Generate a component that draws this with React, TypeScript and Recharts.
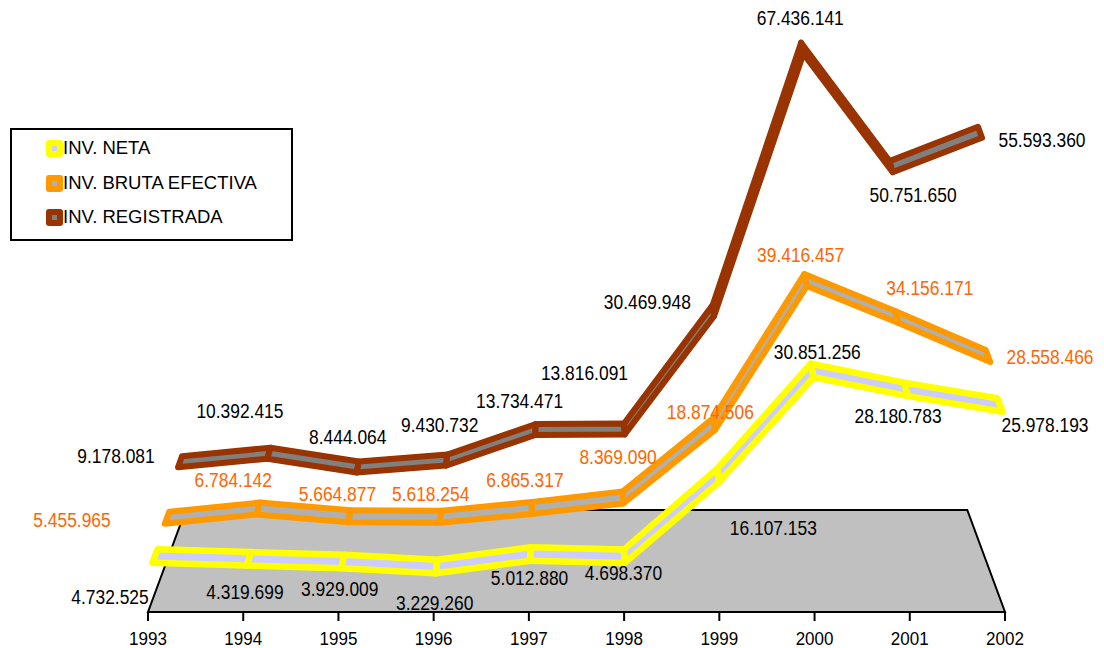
import React from 'react';
import { LineChart, Line, XAxis, YAxis, ReferenceArea, LabelList } from 'recharts';

const years = ['1993', '1994', '1995', '1996', '1997', '1998', '1999', '2000', '2001', '2002'];
const invNeta = [4732525, 4319699, 3929009, 3229260, 5012880, 4698370, 16107153, 30851256, 28180783, 25978193];
const invBruta = [5455965, 6784142, 5664877, 5618254, 6865317, 8369090, 18874506, 39416457, 34156171, 28558466];
const invRegistrada = [9178081, 10392415, 8444064, 9430732, 13734471, 13816091, 30469948, 67436141, 50751650, 55593360];
const seriesNames = ['INV. NETA', 'INV. BRUTA EFECTIVA', 'INV. REGISTRADA'];

// label placement offsets (px) relative to each point
const netaLabelOffsets = [[-45, 41], [-4, 33], [-3, 27], [-2, 36], [-1, 24], [-1, 17], [55, 53], [5, -18], [-8, 27], [45, 20]];
const brutaLabelOffsets = [[-95, 2], [-25, -28], [-12, -22], [-10, -23], [-7, -28], [-5, -40], [-4, -12], [-5, -25], [33, -29], [62, 1]];
const regLabelOffsets = [[-64, -6], [-29, -42], [-10, -30], [-7, -35], [-16, -28], [-40, -56], [-66, -9], [-2, -30], [22, 28], [62, 8]];

const data = years.map((y, i) => ({ year: y, neta: invNeta[i], bruta: invBruta[i], reg: invRegistrada[i] }));

const FONT = '"Liberation Sans", Arial, sans-serif';
const PLOT_H = 612;
const NETA_ZERO = 589.5;
const NETA_K = 7.1;
const yDomain = (zeroPx: number, pxPerMillion: number) => [
  (-(PLOT_H - zeroPx) / pxPerMillion) * 1e6,
  (zeroPx / pxPerMillion) * 1e6,
];
const netaDomain = yDomain(NETA_ZERO, NETA_K);
// floor depth: 102px of the front series scale
const floorTop = netaDomain[0] + (102 / NETA_K) * 1e6;

const fmt = (v: number) => String(v).replace(/\B(?=(\d{3})+(?!\d))/g, '.');

const VP_X = 577;
const SLANT_L = 1100;

function makeRibbonDot(faceColor: string, edgeColor: string, depth: number, edgeW: number) {
  const pts: { x: number; y: number }[] = [];
  return (props: any) => {
    const { index, cx, cy, points } = props;
    pts[index] = { x: cx, y: cy };
    const n = data.length;
    if (index !== n - 1) return <g key={`d${index}`} />;
    const P: { x: number; y: number }[] =
      points && points.length ? points.map((p: any) => ({ x: p.x, y: p.y })) : pts.slice(0, n);
    const polys = [];
    for (let i = 0; i < P.length - 1; i++) {
      const a = P[i];
      const b = P[i + 1];
      const va = { x: (depth * (a.x - VP_X)) / SLANT_L, y: depth };
      const vb = { x: (depth * (b.x - VP_X)) / SLANT_L, y: depth };
      const pp = [
        [a.x - va.x / 2, a.y - va.y / 2],
        [b.x - vb.x / 2, b.y - vb.y / 2],
        [b.x + vb.x / 2, b.y + vb.y / 2],
        [a.x + va.x / 2, a.y + va.y / 2],
      ]
        .map((q) => q.join(','))
        .join(' ');
      polys.push(
        <polygon key={i} points={pp} fill={faceColor} stroke={edgeColor} strokeWidth={edgeW} strokeLinejoin="round" />
      );
    }
    return <g key="ribbon">{polys}</g>;
  };
}

function makeLabel(offsets: number[][], color: string) {
  return (props: any) => {
    const { value, index, viewBox } = props;
    const x = typeof props.x === 'number' ? props.x : viewBox?.x;
    const y = typeof props.y === 'number' ? props.y : viewBox?.y;
    const [dx, dy] = offsets[index] ?? [0, -20];
    return (
      <g key={`l${index}`} transform={`translate(${x + dx},${y + dy}) scale(0.87,1)`}>
        <text x={0} y={0} textAnchor="middle" dominantBaseline="central" fill={color} fontSize={20} fontFamily={FONT}>
          {fmt(value)}
        </text>
      </g>
    );
  };
}

const YearTick = (props: any) => {
  const { x, y, payload } = props;
  return (
    <g transform={`translate(${x},${y}) scale(0.92,1)`}>
      <text x={0} y={17} textAnchor="middle" fill="#000" fontSize={18.5} fontFamily={FONT}>
        {payload.value}
      </text>
    </g>
  );
};

const Floor = (props: any) => {
  const { x, y, width, height } = props;
  if (![x, y, width, height].every((v) => typeof v === 'number' && isFinite(v))) return null;
  const inset = Math.abs(height) * 0.37;
  const top = Math.min(y, y + height);
  const bottom = Math.max(y, y + height);
  const pts = [
    [x, bottom],
    [x + width, bottom],
    [x + width - inset, top],
    [x + inset, top],
  ]
    .map((q) => q.join(','))
    .join(' ');
  return <polygon points={pts} fill="#C0C0C0" stroke="#000" strokeWidth={2} strokeLinejoin="miter" />;
};

const legendItems = [
  { name: seriesNames[0], color: '#FFFF00', inner: '#CCCCFF' },
  { name: seriesNames[1], color: '#FF9900', inner: '#B0B0B0' },
  { name: seriesNames[2], color: '#993300', inner: '#808080' },
];

export default function App() {
  return (
    <div style={{ position: 'absolute', left: 0, top: 0, width: 1104, height: 648, background: '#fff', fontFamily: FONT }}>
      <LineChart width={1104} height={648} data={data} margin={{ top: 0, right: 99, left: 148, bottom: 6 }}>
        <XAxis
          xAxisId="a"
          dataKey="year"
          scale="point"
          padding={{ left: 0, right: 0 }}
          interval={0}
          tickSize={9}
          tickMargin={7}
          axisLine={{ stroke: '#000', strokeWidth: 2 }}
          tickLine={{ stroke: '#000', strokeWidth: 2 }}
          tick={<YearTick />}
        />
        <XAxis xAxisId="neta" dataKey="year" scale="point" padding={{ left: 7, right: 5 }} height={0} hide />
        <XAxis xAxisId="bruta" dataKey="year" scale="point" padding={{ left: 19, right: 17 }} height={0} hide />
        <XAxis xAxisId="reg" dataKey="year" scale="point" padding={{ left: 32, right: 25 }} height={0} hide />
        <YAxis yAxisId="neta" type="number" scale="linear" domain={netaDomain} hide />
        <YAxis yAxisId="bruta" type="number" scale="linear" domain={yDomain(556, 7.0)} hide />
        <YAxis yAxisId="reg" type="number" scale="linear" domain={yDomain(527, 7.1)} hide />
        <ReferenceArea
          xAxisId="a"
          yAxisId="neta"
          x1="1993"
          x2="2002"
          y1={netaDomain[0]}
          y2={floorTop}
          shape={(p: any) => <Floor {...p} />}
          ifOverflow="visible"
        />
        <Line
          xAxisId="reg"
          yAxisId="reg"
          dataKey="reg"
          stroke="none"
          isAnimationActive={false}
          activeDot={false}
          dot={makeRibbonDot('#808080', '#993300', 11, 6)}
        >
          <LabelList dataKey="reg" content={makeLabel(regLabelOffsets, '#000')} />
        </Line>
        <Line
          xAxisId="bruta"
          yAxisId="bruta"
          dataKey="bruta"
          stroke="none"
          isAnimationActive={false}
          activeDot={false}
          dot={makeRibbonDot('#B0B0B0', '#FF9900', 12, 6)}
        >
          <LabelList dataKey="bruta" content={makeLabel(brutaLabelOffsets, '#FF6600')} />
        </Line>
        <Line
          xAxisId="neta"
          yAxisId="neta"
          dataKey="neta"
          stroke="none"
          isAnimationActive={false}
          activeDot={false}
          dot={makeRibbonDot('#CCCCFF', '#FFFF00', 13.5, 6.5)}
        >
          <LabelList dataKey="neta" content={makeLabel(netaLabelOffsets, '#000')} />
        </Line>
      </LineChart>
      <div
        style={{
          position: 'absolute',
          left: 10,
          top: 128,
          width: 283,
          height: 113,
          border: '2px solid #000',
          boxSizing: 'border-box',
          background: '#fff',
        }}
      >
        {legendItems.map((it, i) => (
          <div key={it.name} style={{ position: 'absolute', left: 34, top: [18, 53, 87][i] - 9, height: 18, display: 'flex', alignItems: 'center' }}>
            <div
              style={{
                width: 17,
                height: 17,
                borderRadius: 3,
                background: it.color,
                display: 'flex',
                alignItems: 'center',
                justifyContent: 'center',
              }}
            >
              <div style={{ width: 5, height: 5, background: it.inner }} />
            </div>
            <span style={{ fontSize: 18.5, color: '#000', lineHeight: '18px', whiteSpace: 'nowrap' }}>{it.name}</span>
          </div>
        ))}
      </div>
    </div>
  );
}
